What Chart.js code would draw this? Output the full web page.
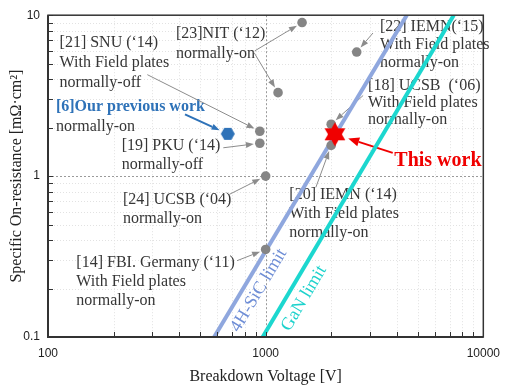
<!DOCTYPE html>
<html>
<head>
<meta charset="utf-8">
<script src="https://cdn.jsdelivr.net/npm/chart.js@4"></script>
<style>
  html, body { margin: 0; padding: 0; background: #fff; }
  canvas { display: block; }
</style>
</head>
<body>
<canvas id="chart" width="509" height="388"></canvas>
<script>
// Specific on-resistance versus breakdown voltage of GaN HEMTs

// reported devices (grey dots)
const refVoltage = [940, 940, 1000, 1000, 1470, 1140, 2620, 2000, 2000];
const refRon     = [1.9, 1.6, 1.0, 0.35, 9.0, 3.3, 5.9, 2.1, 1.55];
// our previous work (blue hexagon)
const prevVoltage = [670];
const prevRon     = [1.83];
// this work (red star)
const thisVoltage = [2080];
const thisRon     = [1.82];
// material limits
const sicLimitV = [580, 4450];
const sicLimitR = [0.1, 10];
const ganLimitV = [969, 7314];
const ganLimitR = [0.1, 10];
// axis tick labels
const xTickLabels = [100, 1000, 10000];
const yTickLabels = [0.1, 1, 10];

const SERIF = '"Liberation Serif", "Times New Roman", serif';
const SANS = '"Liberation Sans", Arial, sans-serif';
const TEXT = '#363636';
const GREY = '#858585';
const BLUE = '#2E72B8';
const RED = '#F00000';

// text blocks: anchor is the left end / vertical middle of the first line
const notes = [
  { x: 113, y: 6.72, lh: 20, lines: ['[21] SNU (\u201814)', 'With Field plates', 'normally-off'] },
  { x: 387, y: 7.64, lh: 20, lines: ['[23]NIT (\u201812)', 'normally-on'] },
  { x: 108.7, y: 2.68, lh: 20, lines: [{ t: '[6]Our previous work', color: BLUE, bold: true }, 'normally-on'] },
  { x: 218, y: 1.54, lh: 19, lines: ['[19] PKU (\u201814)', 'normally-off'] },
  { x: 221, y: 0.717, lh: 19, lines: ['[24] UCSB (\u201804)', 'normally-on'] },
  { x: 135, y: 0.289, lh: 19, lines: ['[14] FBI. Germany (\u201811)', 'With Field plates', 'normally-on'] },
  { x: 3350, y: 8.44, lh: 18, lines: ['[22] IEMN(\u201815)', 'With Field plates', 'normally-on'] },
  { x: 2955, y: 3.66, lh: 17, lines: ['[18] UCSB  (\u201806)', 'With Field plates', 'normally-on'] },
  { x: 1285, y: 0.769, lh: 19, lines: ['[20] IEMN (\u201814)', 'With Field plates', 'normally-on'] },
  { x: 3900, y: 1.245, lh: 20, lines: [{ t: 'This work', color: RED, bold: true, size: 20 }] }
];

// arrows: tail in data units, head at a point of a dataset
const arrows = [
  { x: 286, y: 4.27, ds: 2, i: 0 },
  { x: 891, y: 6.0, ds: 2, i: 4 },
  { x: 885, y: 5.85, ds: 2, i: 5 },
  { x: 3112, y: 7.75, ds: 2, i: 6 },
  { x: 2805, y: 3.17, ds: 2, i: 7 },
  { x: 1700, y: 0.85, ds: 2, i: 8 },
  { x: 639, y: 1.50, ds: 2, i: 1 },
  { x: 680, y: 0.769, ds: 2, i: 2 },
  { x: 739, y: 0.298, ds: 2, i: 3 },
  { x: 426, y: 2.42, ds: 3, i: 0, color: BLUE, lw: 2, gap: 9 },
  { x: 3836, y: 1.395, ds: 4, i: 0, color: RED, lw: 2, gap: 14, hl: 11, hw: 9 }
];

// limit line captions
const limitLabels = [
  { text: '4H-SiC limit', x: 930, y: 0.195, color: '#6F8ED6', ds: 0 },
  { text: 'GaN limit', x: 1501, y: 0.174, color: '#1DD2CC', ds: 1 }
];

function hexagonImage(r, color) {
  const c = document.createElement('canvas');
  c.width = c.height = Math.ceil(2 * r + 2);
  const g = c.getContext('2d');
  const cx = c.width / 2, cy = c.height / 2;
  g.beginPath();
  for (let k = 0; k < 6; k++) {
    const a = k * Math.PI / 3;
    g.lineTo(cx + r * Math.cos(a), cy + r * Math.sin(a));
  }
  g.closePath();
  g.fillStyle = color;
  g.fill();
  return c;
}

function hexagramImage(r, color) {
  const c = document.createElement('canvas');
  c.width = c.height = Math.ceil(2 * r + 2);
  const g = c.getContext('2d');
  const cx = c.width / 2, cy = c.height / 2;
  g.fillStyle = color;
  [ -Math.PI / 2, Math.PI / 2 ].forEach(start => {
    g.beginPath();
    for (let k = 0; k < 3; k++) {
      const a = start + k * 2 * Math.PI / 3;
      g.lineTo(cx + r * Math.cos(a), cy + r * Math.sin(a));
    }
    g.closePath();
    g.fill();
  });
  return c;
}

function drawArrow(ctx, x0, y0, x1, y1, color, lw, hl, hw) {
  const ang = Math.atan2(y1 - y0, x1 - x0);
  const bx = x1 - hl * Math.cos(ang), by = y1 - hl * Math.sin(ang);
  ctx.strokeStyle = color;
  ctx.lineWidth = lw;
  ctx.beginPath();
  ctx.moveTo(x0, y0);
  ctx.lineTo(bx, by);
  ctx.stroke();
  ctx.fillStyle = color;
  ctx.beginPath();
  ctx.moveTo(x1, y1);
  ctx.lineTo(bx + hw / 2 * Math.sin(ang), by - hw / 2 * Math.cos(ang));
  ctx.lineTo(bx - hw / 2 * Math.sin(ang), by + hw / 2 * Math.cos(ang));
  ctx.closePath();
  ctx.fill();
}

function minorValues(lo, hi) {
  const out = [];
  for (let d = lo; d < hi * 0.999; d *= 10) {
    for (let m = 1; m < 10; m++) out.push(d * m);
  }
  out.push(hi);
  return out;
}

const decorations = {
  id: 'decorations',
  beforeDatasetsDraw(chart) {
    const { ctx, chartArea: a, scales: { x, y } } = chart;
    ctx.save();

    // minor grid
    ctx.lineWidth = 1;
    ctx.setLineDash([1, 2]);
    ctx.strokeStyle = '#e2e2e2';
    minorValues(100, 10000).forEach(v => {
      if (xTickLabels.includes(v)) return;
      const px = Math.round(x.getPixelForValue(v)) + 0.5;
      ctx.beginPath(); ctx.moveTo(px, a.top); ctx.lineTo(px, a.bottom); ctx.stroke();
    });
    minorValues(0.1, 10).forEach(v => {
      if (yTickLabels.some(t => Math.abs(t - v) < 1e-9)) return;
      const py = Math.round(y.getPixelForValue(v)) + 0.5;
      ctx.beginPath(); ctx.moveTo(a.left, py); ctx.lineTo(a.right, py); ctx.stroke();
    });
    // major grid
    ctx.strokeStyle = '#9a9a9a';
    ctx.setLineDash([2, 2]);
    const px1k = Math.round(x.getPixelForValue(xTickLabels[1])) + 0.5;
    ctx.beginPath(); ctx.moveTo(px1k, a.top); ctx.lineTo(px1k, a.bottom); ctx.stroke();
    const py1 = Math.round(y.getPixelForValue(yTickLabels[1])) + 0.5;
    ctx.beginPath(); ctx.moveTo(a.left, py1); ctx.lineTo(a.right, py1); ctx.stroke();
    ctx.setLineDash([]);

    // text blocks
    ctx.textAlign = 'left';
    ctx.textBaseline = 'middle';
    notes.forEach(n => {
      const px = x.getPixelForValue(n.x);
      const py = y.getPixelForValue(n.y);
      n.lines.forEach((ln, k) => {
        const o = typeof ln === 'string' ? { t: ln } : ln;
        ctx.fillStyle = o.color || TEXT;
        ctx.font = (o.bold ? 'bold ' : '') + (o.size || 16) + 'px ' + SERIF;
        ctx.fillText(o.t, px, py + k * n.lh);
      });
    });

    // arrows
    arrows.forEach(ar => {
      const el = chart.getDatasetMeta(ar.ds).data[ar.i];
      const x0 = x.getPixelForValue(ar.x), y0 = y.getPixelForValue(ar.y);
      const dx = el.x - x0, dy = el.y - y0, len = Math.hypot(dx, dy);
      const gap = ar.gap || 6;
      const x1 = el.x - dx / len * gap, y1 = el.y - dy / len * gap;
      drawArrow(ctx, x0, y0, x1, y1, ar.color || '#8c8c8c', ar.lw || 1, ar.hl || 8, ar.hw || 6);
    });

    // limit captions, rotated along their lines
    limitLabels.forEach(l => {
      const pts = chart.getDatasetMeta(l.ds).data;
      const ang = Math.atan2(pts[1].y - pts[0].y, pts[1].x - pts[0].x);
      ctx.save();
      ctx.translate(x.getPixelForValue(l.x), y.getPixelForValue(l.y));
      ctx.rotate(ang);
      ctx.textAlign = 'center';
      ctx.fillStyle = l.color;
      ctx.font = '18px ' + SERIF;
      ctx.fillText(l.text, 0, 0);
      ctx.restore();
    });
    ctx.restore();
  },
  afterDatasetsDraw(chart) {
    const { ctx, chartArea: a, scales: { x, y } } = chart;
    ctx.save();
    // inward tick marks
    ctx.strokeStyle = '#333';
    ctx.lineWidth = 1;
    minorValues(100, 10000).forEach(v => {
      const px = Math.round(x.getPixelForValue(v)) + 0.5;
      ctx.beginPath(); ctx.moveTo(px, a.bottom); ctx.lineTo(px, a.bottom - 5); ctx.stroke();
    });
    minorValues(0.1, 10).forEach(v => {
      const py = Math.round(y.getPixelForValue(v)) + 0.5;
      ctx.beginPath(); ctx.moveTo(a.left, py); ctx.lineTo(a.left + 5, py); ctx.stroke();
    });
    // frame
    ctx.lineWidth = 1.5;
    ctx.strokeRect(a.left, a.top, a.right - a.left, a.bottom - a.top);
    ctx.lineWidth = 2;
    ctx.beginPath();
    ctx.moveTo(a.left, a.top); ctx.lineTo(a.left, a.bottom); ctx.lineTo(a.right, a.bottom);
    ctx.stroke();
    ctx.restore();
  }
};

const toXY = (xs, ys) => xs.map((v, i) => ({ x: v, y: ys[i] }));

new Chart(document.getElementById('chart'), {
  type: 'scatter',
  data: {
    datasets: [
      { label: '4H-SiC limit', data: toXY(sicLimitV, sicLimitR), showLine: true, order: 5,
        borderColor: '#8FA7DE', borderWidth: 4, pointRadius: 0, clip: 0 },
      { label: 'GaN limit', data: toXY(ganLimitV, ganLimitR), showLine: true, order: 4,
        borderColor: '#1CD7CF', borderWidth: 4, pointRadius: 0, clip: 0 },
      { label: 'Reported', data: toXY(refVoltage, refRon), order: 3,
        pointRadius: 4.8, backgroundColor: GREY, borderWidth: 0 },
      { label: 'Our previous work', data: toXY(prevVoltage, prevRon), order: 2,
        pointStyle: hexagonImage(7, BLUE), pointRadius: 7 },
      { label: 'This work', data: toXY(thisVoltage, thisRon), order: 1,
        pointStyle: hexagramImage(12, RED), pointRadius: 12 }
    ]
  },
  options: {
    responsive: false,
    animation: false,
    events: [],
    layout: { padding: { top: 12, right: 19, left: 0, bottom: 0 } },
    plugins: { legend: { display: false }, tooltip: { enabled: false } },
    scales: {
      x: {
        type: 'logarithmic', min: 100, max: 10000,
        afterBuildTicks: s => { s.ticks = xTickLabels.map(v => ({ value: v })); },
        afterFit: s => { s.height = 51; },
        grid: { display: false, drawTicks: false },
        border: { display: false },
        ticks: { padding: 9, color: '#222', autoSkip: false, maxRotation: 0,
          font: { family: SANS, size: 12 },
          callback: (v, i) => String(xTickLabels[i]) },
        title: { display: true, text: 'Breakdown Voltage [V]', color: '#222',
          font: { family: SERIF, size: 16, lineHeight: 1.2 }, padding: { top: 0, bottom: 1.5 } }
      },
      y: {
        type: 'logarithmic', min: 0.1, max: 10,
        afterBuildTicks: s => { s.ticks = yTickLabels.map(v => ({ value: v })); },
        afterFit: s => { s.width = 48; },
        grid: { display: false, drawTicks: false },
        border: { display: false },
        ticks: { padding: 8, color: '#222', autoSkip: false,
          font: { family: SANS, size: 12 },
          callback: (v, i) => String(yTickLabels[i]) },
        title: { display: true, text: 'Specific On-resistance [m\u03A9\u00B7cm\u00B2]', color: '#222',
          font: { family: SERIF, size: 16, lineHeight: 1.2 }, padding: { top: 7, bottom: 0 } }
      }
    }
  },
  plugins: [decorations]
});
</script>
</body>
</html>
